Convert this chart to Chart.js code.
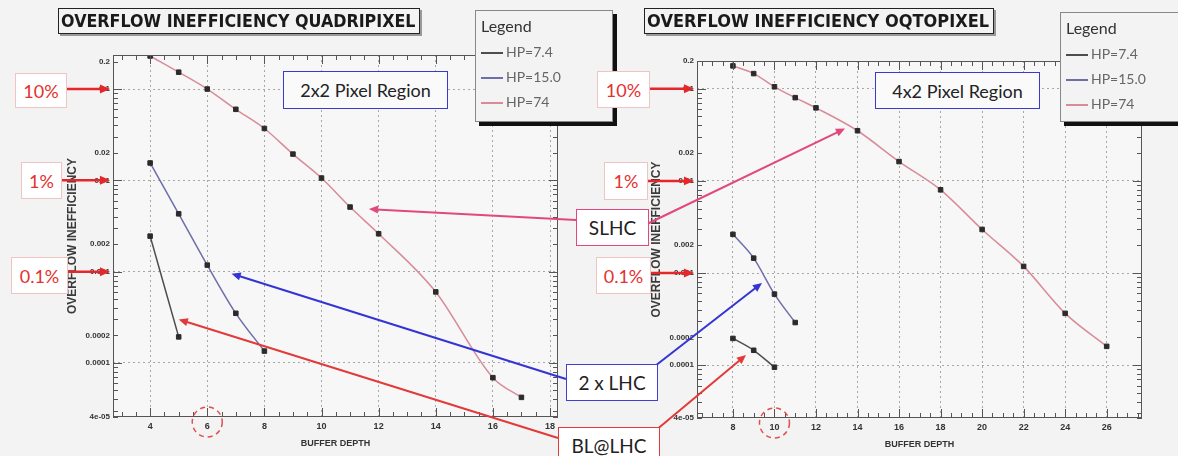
<!DOCTYPE html>
<html>
<head>
<meta charset="utf-8">
<script src="https://cdn.jsdelivr.net/npm/chart.js@4.4.0/dist/chart.umd.min.js"></script>
<style>
  html, body { margin: 0; padding: 0; }
  body {
    width: 1178px; height: 456px; position: relative; overflow: hidden;
    background: #f3f3f3; font-family: Lato, 'Open Sans', sans-serif;
  }
  .abs { position: absolute; }
  canvas { display: block; }
  #quadWrap { left: 0; top: 0; width: 600px; height: 456px; z-index: 1; }
  #octoWrap { left: 600px; top: 0; width: 578px; height: 456px; z-index: 1; }
  #overlay { left: 0; top: 0; z-index: 3; pointer-events: none; }
  .title {
    z-index: 4; border: 1px solid #222; box-shadow: 2px 2px 0 #999; background: #f3f3f3;
    height: 24px; overflow: hidden; white-space: nowrap;
  }
  .title span {
    display: inline-block; transform-origin: 0 0;
    font: bold 17px 'Liberation Sans Narrow', 'DejaVu Sans Condensed', sans-serif;
    color: #1a1a1a; line-height: 24px; padding-left: 2px;
  }
  .legend {
    z-index: 4; border: 1px solid #888; box-shadow: 4px 4px 0 #111; background: #f3f3f3;
    color: #666; overflow: hidden;
  }
  .legend .head { position: absolute; left: 5px; top: 5px; font-size: 16px; color: #333; }
  .legend .row { position: absolute; left: 5px; height: 20px; font-size: 14px; white-space: nowrap; }
  .legend .row i { display: inline-block; width: 22px; height: 0; border-top: 2px solid #555; vertical-align: middle; margin-right: 3px; }
  .region {
    z-index: 4; border: 1.5px solid #3a3ad0; background: #fafafa; color: #222;
    font-size: 18px; display: flex; align-items: center; justify-content: center;
  }
  .pct {
    z-index: 4; border: 1px solid #f1c4c4; background: #fff; color: #e3312e;
    font-size: 18px; display: flex; align-items: center; justify-content: center;
  }
  .tag {
    z-index: 4; background: #fff; color: #222; font-size: 19px;
    display: flex; align-items: center; justify-content: center;
  }
</style>
</head>
<body>

<div id="quadWrap" class="abs"><canvas id="quadChart" width="600" height="456"></canvas></div>
<div id="octoWrap" class="abs"><canvas id="octoChart" width="578" height="456"></canvas></div>
<canvas id="overlay" class="abs" width="1178" height="456"></canvas>

<div class="title abs" style="left:58px;top:8px;width:360px;" data-w="356"><span>OVERFLOW INEFFICIENCY QUADRIPIXEL</span></div>
<div class="title abs" style="left:644px;top:8px;width:348px;" data-w="344"><span>OVERFLOW INEFFICIENCY OQTOPIXEL</span></div>

<div id="quadLegend" class="legend abs" style="left:475px;top:10px;width:136px;height:110px;"></div>
<div id="octoLegend" class="legend abs" style="left:1060px;top:12px;width:140px;height:108px;"></div>

<div class="region abs" style="left:283px;top:71px;width:163px;height:36px;">2x2 Pixel Region</div>
<div class="region abs" style="left:875px;top:72px;width:163px;height:35px;">4x2 Pixel Region</div>

<div class="pct abs" style="left:15px;top:73px;width:50px;height:33px;">10%</div>
<div class="pct abs" style="left:21px;top:162px;width:39px;height:35px;">1%</div>
<div class="pct abs" style="left:11px;top:257px;width:55px;height:35px;">0.1%</div>
<div class="pct abs" style="left:597px;top:71px;width:51px;height:35px;">10%</div>
<div class="pct abs" style="left:604px;top:162px;width:42px;height:36px;">1%</div>
<div class="pct abs" style="left:596px;top:257px;width:53px;height:35px;">0.1%</div>

<div class="tag abs" style="left:576px;top:209px;width:71px;height:35px;border:1.5px solid #e2487e;">SLHC</div>
<div class="tag abs" style="left:566px;top:364px;width:90px;height:35px;border:1.5px solid #4040d0;">2 x LHC</div>
<div class="tag abs" style="left:558px;top:427px;width:100px;height:34px;border:1.5px solid #e23a3a;">BL@LHC</div>

<script>
// ---- values ----
const hpLabels = ['HP=7.4', 'HP=15.0', 'HP=74'];
const hpColors = ['#4d4d4d', '#6e6eaa', '#d98c98'];

// 2x2 pixel region (quadripixel)
const quadDepth7 = [4, 5];
const quadIneff7 = [0.00245, 0.000193];
const quadDepth15 = [4, 5, 6, 7, 8];
const quadIneff15 = [0.0155, 0.0043, 0.00118, 0.00035, 0.000135];
const quadDepth74 = [4, 5, 6, 7, 8, 9, 10, 11, 12, 14, 16, 17];
const quadIneff74 = [0.23, 0.153, 0.1, 0.06, 0.037, 0.0194, 0.0106, 0.0051, 0.0026, 0.0006, 0.000069, 0.000042];

// 4x2 pixel region (octopixel)
const octoDepth7 = [8, 9, 10];
const octoIneff7 = [0.000195, 0.000145, 0.000095];
const octoDepth15 = [8, 9, 10, 11];
const octoIneff15 = [0.00263, 0.00145, 0.00059, 0.00029];
const octoDepth74 = [8, 9, 10, 11, 12, 14, 16, 18, 20, 22, 24, 26];
const octoIneff74 = [0.177, 0.146, 0.105, 0.080, 0.062, 0.035, 0.0162, 0.0080, 0.00297, 0.00118, 0.000365, 0.00016];

// axis ticks
const quadXTicks = [4, 6, 8, 10, 12, 14, 16, 18];
const octoXTicks = [8, 10, 12, 14, 16, 18, 20, 22, 24, 26];
const yTickValues = [0.2, 0.1, 0.02, 0.01, 0.002, 0.001, 0.0002, 0.0001];
const yTickLabels = ['0.2', '0.1', '0.02', '0.01', '0.002', '0.001', '0.0002', '0.0001'];
const yBottomLabel = '4e-05';

// the red percent markers on the left of each plot
const percentLevels = [0.1, 0.01, 0.001];

function zip(xs, ys) {
    return xs.map((x, i) => ({ x: x, y: ys[i] }));
}

function sameValue(a, b) {
    return Math.abs(a / b - 1) < 1e-6;
}

function isDecade(v) {
    const l = Math.log10(v);
    return Math.abs(l - Math.round(l)) < 1e-6;
}

// ROOT style frame: plot fill, outline and inward ticks on all four sides
const rootFrame = {
    id: 'rootFrame',
    beforeDraw(chart) {
        const { ctx, chartArea: a } = chart;
        ctx.save();
        ctx.fillStyle = '#f7f7f7';
        ctx.fillRect(a.left, a.top, a.width, a.height);
        ctx.restore();
    },
    afterDraw(chart) {
        const { ctx, chartArea: a, scales } = chart;
        const majors = chart.options.plugins.rootFrame.majors;
        ctx.save();
        ctx.strokeStyle = '#555';
        ctx.lineWidth = 1;
        ctx.strokeRect(a.left + 0.5, a.top + 0.5, a.width - 1, a.height - 1);
        ctx.beginPath();
        scales.x.ticks.forEach(t => {
            const p = Math.round(scales.x.getPixelForValue(t.value)) + 0.5;
            const len = majors.includes(t.value) ? 9 : 5;
            ctx.moveTo(p, a.bottom); ctx.lineTo(p, a.bottom - len);
            ctx.moveTo(p, a.top); ctx.lineTo(p, a.top + len);
        });
        scales.y.ticks.forEach(t => {
            const p = Math.round(scales.y.getPixelForValue(t.value)) + 0.5;
            const len = isDecade(t.value) ? 9 : 5;
            ctx.moveTo(a.left, p); ctx.lineTo(a.left + len, p);
            ctx.moveTo(a.right, p); ctx.lineTo(a.right - len, p);
        });
        ctx.stroke();
        ctx.restore();
    }
};

function makeChart(canvasId, series, xRange, yRange, xTicks, pad) {
    const datasets = series.map((s, i) => ({
        label: hpLabels[i],
        data: s,
        borderColor: hpColors[i],
        borderWidth: 1.5,
        cubicInterpolationMode: 'monotone',
        pointStyle: 'rect',
        pointRadius: 3.2,
        pointBackgroundColor: '#2b2b2b',
        pointBorderColor: '#2b2b2b',
        pointBorderWidth: 1
    }));

    return new Chart(document.getElementById(canvasId), {
        type: 'line',
        data: { datasets: datasets },
        plugins: [rootFrame],
        options: {
            responsive: false,
            animation: false,
            layout: { padding: pad },
            plugins: {
                legend: { display: false },
                tooltip: { enabled: false },
                rootFrame: { majors: xTicks }
            },
            scales: {
                x: {
                    type: 'linear',
                    min: xRange[0],
                    max: xRange[1],
                    bounds: 'data',
                    afterBuildTicks: scale => {
                        const t = [];
                        for (let v = Math.ceil(scale.min * 2) / 2; v <= scale.max; v += 0.5) t.push({ value: v });
                        scale.ticks = t;
                    },
                    afterFit: scale => { scale.height = 36; },
                    ticks: {
                        autoSkip: false,
                        maxRotation: 0,
                        padding: 4,
                        color: '#333',
                        font: { family: 'Liberation Sans', size: 9, weight: 'bold' },
                        callback: v => xTicks.includes(v) ? String(v) : ''
                    },
                    grid: {
                        drawTicks: false,
                        lineWidth: 1,
                        color: c => (c.tick && xTicks.includes(c.tick.value)) ? '#a8a8a8' : 'rgba(0,0,0,0)'
                    },
                    border: { display: false, dash: [2, 3] },
                    title: {
                        display: true,
                        text: 'BUFFER DEPTH',
                        color: '#333',
                        padding: { top: 2, bottom: 4 },
                        font: { family: 'Liberation Sans', size: 9, weight: 'bold' }
                    }
                },
                y: {
                    type: 'logarithmic',
                    min: yRange[0],
                    max: yRange[1],
                    bounds: 'data',
                    afterBuildTicks: scale => {
                        const t = [{ value: scale.min }];
                        for (let e = -6; e <= 0; e++) {
                            for (let m = 1; m <= 9; m++) {
                                const v = m * Math.pow(10, e);
                                if (v > scale.min * 1.0001 && v <= scale.max * 1.0001) t.push({ value: v });
                            }
                        }
                        scale.ticks = t;
                    },
                    afterFit: scale => { scale.width = 48; },
                    ticks: {
                        autoSkip: false,
                        padding: 3,
                        color: '#333',
                        font: { family: 'Liberation Sans', size: 8, weight: 'bold' },
                        callback: function (v, i) {
                            if (i === 0) return yBottomLabel;
                            const k = yTickValues.findIndex(tv => sameValue(tv, v));
                            return k >= 0 ? yTickLabels[k] : '';
                        }
                    },
                    grid: {
                        drawTicks: false,
                        lineWidth: 1,
                        color: c => (c.tick && c.index > 0 && isDecade(c.tick.value)) ? '#a8a8a8' : 'rgba(0,0,0,0)'
                    },
                    border: { display: false, dash: [2, 3] },
                    title: {
                        display: true,
                        text: 'OVERFLOW INEFFICIENCY',
                        color: '#3a3a3a',
                        padding: { top: 0, bottom: 2 },
                        font: { family: 'Liberation Sans', size: 12, weight: 'bold' }
                    }
                }
            }
        }
    });
}

const quadChart = makeChart('quadChart',
    [zip(quadDepth7, quadIneff7), zip(quadDepth15, quadIneff15), zip(quadDepth74, quadIneff74)],
    [2.7, 18.28], [2.56e-5, 0.236], quadXTicks,
    { left: 65, right: 42, top: 55, bottom: 3 });

const octoChart = makeChart('octoChart',
    [zip(octoDepth7, octoIneff7), zip(octoDepth15, octoIneff15), zip(octoDepth74, octoIneff74)],
    [6.27, 27.7], [2.67e-5, 0.2], octoXTicks,
    { left: 49, right: 36, top: 61, bottom: 2 });

// legends built from the series names
function buildLegend(id) {
    const box = document.getElementById(id);
    let html = '<div class="head">Legend</div>';
    hpLabels.forEach((name, i) => {
        html += '<div class="row" style="top:' + (32 + i * 25) + 'px"><i style="border-color:' + hpColors[i] + '"></i>' + name + '</div>';
    });
    box.innerHTML = html;
}
buildLegend('quadLegend');
buildLegend('octoLegend');

// squeeze the plot titles into their boxes
document.querySelectorAll('.title').forEach(el => {
    const span = el.querySelector('span');
    const want = parseFloat(el.dataset.w);
    span.style.transform = 'scaleX(' + (want / span.offsetWidth) + ')';
});

// ---- annotation layer: arrows and circles over both plots ----
const ov = document.getElementById('overlay').getContext('2d');

function at(chart, offsetX, x, y) {
    return [offsetX + chart.scales.x.getPixelForValue(x), chart.scales.y.getPixelForValue(y)];
}

function arrow(x1, y1, x2, y2, color, width, head) {
    const ang = Math.atan2(y2 - y1, x2 - x1);
    ov.save();
    ov.strokeStyle = color;
    ov.fillStyle = color;
    ov.lineWidth = width;
    ov.beginPath();
    ov.moveTo(x1, y1);
    ov.lineTo(x2 - Math.cos(ang) * head * 0.7, y2 - Math.sin(ang) * head * 0.7);
    ov.stroke();
    ov.beginPath();
    ov.moveTo(x2, y2);
    ov.lineTo(x2 - head * Math.cos(ang - 0.42), y2 - head * Math.sin(ang - 0.42));
    ov.lineTo(x2 - head * Math.cos(ang + 0.42), y2 - head * Math.sin(ang + 0.42));
    ov.closePath();
    ov.fill();
    ov.restore();
}

function dashedCircle(cx, cy, r) {
    ov.save();
    ov.strokeStyle = '#e05050';
    ov.lineWidth = 1.5;
    ov.setLineDash([5, 4]);
    ov.beginPath();
    ov.arc(cx, cy, r, 0, Math.PI * 2);
    ov.stroke();
    ov.restore();
}

// percent arrows pointing at the 10%, 1% and 0.1% levels
const pctStartQuad = [67, 62, 68];
const pctStartOcto = [650, 648, 651];
percentLevels.forEach((lvl, i) => {
    const q = at(quadChart, 0, quadChart.scales.x.min, lvl);
    arrow(pctStartQuad[i], q[1], q[0] - 3, q[1], '#e5262b', 2.5, 11);
    const o = at(octoChart, 600, octoChart.scales.x.min, lvl);
    arrow(pctStartOcto[i], o[1], o[0] - 3, o[1], '#e5262b', 2.5, 11);
});

// SLHC
let p = at(quadChart, 0, 11.66, 0.00485);
arrow(576, 220, p[0], p[1], '#e2487e', 2, 10);
p = at(octoChart, 600, 13.4, 0.037);
arrow(647, 224, p[0], p[1], '#e2487e', 2, 10);

// 2 x LHC
p = at(quadChart, 0, 6.85, 0.00095);
arrow(566, 379, p[0], p[1], '#3434d4', 2, 10);
p = at(octoChart, 600, 9.4, 0.00078);
arrow(655, 366, p[0], p[1], '#3434d4', 2, 10);

// BL@LHC
p = at(quadChart, 0, 5.0, 0.0003);
arrow(558, 438, p[0], p[1], '#e23a3a', 2, 10);
p = at(octoChart, 600, 8.63, 0.000129);
arrow(655, 431, p[0], p[1], '#e23a3a', 2, 10);

// circled buffer depths on the x axes
dashedCircle(quadChart.scales.x.getPixelForValue(6), quadChart.chartArea.bottom + 5, 15);
dashedCircle(600 + octoChart.scales.x.getPixelForValue(10), octoChart.chartArea.bottom + 5, 15);
</script>
</body>
</html>
